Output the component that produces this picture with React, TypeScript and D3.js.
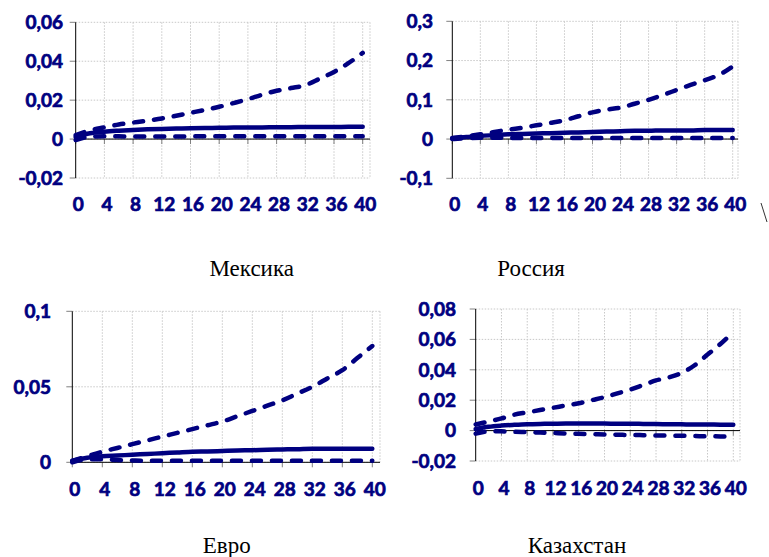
import React from "react";
import * as d3 from "d3";

const periods = [0, 2, 4, 6, 8, 10, 12, 14, 16, 18, 20, 22, 24, 26, 28, 30, 32, 34, 36, 38, 40];
const xTickLabels = [0, 4, 8, 12, 16, 20, 24, 28, 32, 36, 40];

const mexicoUpper = [0.002, 0.0045, 0.006, 0.0075, 0.0085, 0.0095, 0.0106, 0.012, 0.0135, 0.015, 0.0166, 0.0185, 0.0205, 0.0228, 0.0248, 0.0262, 0.0277, 0.031, 0.0345, 0.039, 0.0443];
const mexicoMid = [0.001, 0.003, 0.0038, 0.0043, 0.0047, 0.005, 0.0052, 0.0054, 0.0056, 0.0057, 0.0058, 0.0059, 0.006, 0.006, 0.0061, 0.0061, 0.0062, 0.0062, 0.0062, 0.0063, 0.0063];
const mexicoLower = [-0.0005, 0.0012, 0.0015, 0.0014, 0.0013, 0.0013, 0.0013, 0.0013, 0.0014, 0.0014, 0.0014, 0.0015, 0.0015, 0.0015, 0.0015, 0.0015, 0.0015, 0.0015, 0.0015, 0.0015, 0.0015];

const russiaUpper = [0.003, 0.007, 0.012, 0.018, 0.024, 0.029, 0.035, 0.041, 0.048, 0.058, 0.068, 0.075, 0.08, 0.09, 0.1, 0.112, 0.125, 0.138, 0.15, 0.163, 0.185];
const russiaMid = [0.002, 0.005, 0.008, 0.01, 0.012, 0.013, 0.014, 0.015, 0.016, 0.017, 0.018, 0.019, 0.02, 0.021, 0.021, 0.022, 0.022, 0.022, 0.023, 0.023, 0.023];
const russiaLower = [0, 0.002, 0.003, 0.003, 0.003, 0.0025, 0.0025, 0.0025, 0.0025, 0.0025, 0.0025, 0.0025, 0.0025, 0.0025, 0.0025, 0.0025, 0.0025, 0.0025, 0.0025, 0.0025, 0.0025];

const euroUpper = [0.001, 0.004, 0.007, 0.0095, 0.012, 0.0145, 0.017, 0.0195, 0.022, 0.0245, 0.027, 0.0305, 0.034, 0.0375, 0.041, 0.0455, 0.05, 0.0555, 0.061, 0.069, 0.077];
const euroMid = [0.001, 0.003, 0.004, 0.0045, 0.005, 0.0055, 0.006, 0.0065, 0.007, 0.0072, 0.0075, 0.0078, 0.008, 0.0083, 0.0085, 0.0087, 0.009, 0.009, 0.009, 0.009, 0.009];
const euroLower = [0, 0.002, 0.002, 0.0015, 0.0012, 0.001, 0.001, 0.001, 0.001, 0.001, 0.001, 0.001, 0.001, 0.001, 0.001, 0.001, 0.001, 0.001, 0.001, 0.001, 0.001];

const kazUpper = [0.004, 0.006, 0.008, 0.0105, 0.012, 0.0135, 0.015, 0.0165, 0.018, 0.02, 0.022, 0.0245, 0.027, 0.03, 0.033, 0.035, 0.038, 0.043, 0.05, 0.057, 0.065];
const kazMid = [0.001, 0.0025, 0.0033, 0.0038, 0.0042, 0.0044, 0.0045, 0.0046, 0.0046, 0.0046, 0.0046, 0.0045, 0.0045, 0.0044, 0.0043, 0.0042, 0.0041, 0.004, 0.004, 0.0039, 0.0039];
const kazLower = [-0.002, -0.0005, -0.0005, -0.0008, -0.001, -0.0013, -0.0016, -0.0019, -0.0021, -0.0023, -0.0025, -0.0027, -0.0029, -0.003, -0.0032, -0.0033, -0.0034, -0.0036, -0.0037, -0.0038, -0.0039];

const mexicoYTicks = [-0.02, 0, 0.02, 0.04, 0.06];
const russiaYTicks = [-0.1, 0, 0.1, 0.2, 0.3];
const euroYTicks = [0, 0.05, 0.1];
const kazYTicks = [-0.02, 0, 0.02, 0.04, 0.06, 0.08];

const titles = ["Мексика", "Россия", "Евро", "Казахстан"];

const NAVY = "#000080";
const LABEL_FONT = "Lato, 'Open Sans', sans-serif";

type PanelCfg = {
  axisX: number; x40: number; rightX: number; top: number; bottom: number;
  yTicks: number[]; labelRight: number; xLabelY: number;
  upper: number[]; mid: number[]; lower: number[];
  title: string; titleX: number; titleY: number;
};

const panels: PanelCfg[] = [
  { axisX: 75.7, x40: 362.7, rightX: 370, top: 22.3, bottom: 178, yTicks: mexicoYTicks, labelRight: 63, xLabelY: 204,
    upper: mexicoUpper, mid: mexicoMid, lower: mexicoLower, title: titles[0], titleX: 251.7, titleY: 276 },
  { axisX: 452.3, x40: 732.7, rightX: 738, top: 21.3, bottom: 178.3, yTicks: russiaYTicks, labelRight: 433, xLabelY: 204,
    upper: russiaUpper, mid: russiaMid, lower: russiaLower, title: titles[1], titleX: 531, titleY: 276 },
  { axisX: 72.3, x40: 372.3, rightX: 380, top: 311.3, bottom: 462.3, yTicks: euroYTicks, labelRight: 51, xLabelY: 489,
    upper: euroUpper, mid: euroMid, lower: euroLower, title: titles[2], titleX: 226.7, titleY: 553 },
  { axisX: 475.7, x40: 733.3, rightX: 740, top: 309, bottom: 461, yTicks: kazYTicks, labelRight: 456, xLabelY: 488.5,
    upper: kazUpper, mid: kazMid, lower: kazLower, title: titles[3], titleX: 577, titleY: 553 },
];

const fmt = (v: number) => (v === 0 ? "0" : String(+v.toFixed(3)).replace(".", ","));

function Panel({ p }: { p: PanelCfg }) {
  const yMin = p.yTicks[0];
  const yMax = p.yTicks[p.yTicks.length - 1];
  const x = d3.scaleLinear().domain([0, 40]).range([p.axisX, p.x40]);
  const y = d3.scaleLinear().domain([yMin, yMax]).range([p.bottom, p.top]);
  const line = d3.line<number>().x((_, i) => x(periods[i])).y((d) => y(d)).curve(d3.curveMonotoneX);
  const y0 = y(0);
  const labelProps = {
    fill: NAVY, stroke: NAVY, strokeWidth: 0.7, fontFamily: LABEL_FONT, fontWeight: 700, fontSize: 19,
  };
  return (
    <g>
      {p.yTicks.map((t) => (
        <line key={"hg" + t} x1={p.axisX} x2={p.rightX} y1={y(t)} y2={y(t)} stroke="#c8c8c8" strokeDasharray="1.5 1.5" strokeWidth={1} />
      ))}
      {xTickLabels.filter((t) => t > 0).map((t) => (
        <line key={"vg" + t} x1={x(t)} x2={x(t)} y1={p.top} y2={p.bottom} stroke="#c8c8c8" strokeDasharray="1.5 1.5" strokeWidth={1} />
      ))}
      <line x1={p.rightX} x2={p.rightX} y1={p.top} y2={p.bottom} stroke="#c8c8c8" strokeDasharray="1.5 1.5" strokeWidth={1} />
      {p.yTicks.map((t) => (
        <line key={"yt" + t} x1={p.axisX - 6} x2={p.axisX} y1={y(t)} y2={y(t)} stroke="#808080" strokeWidth={1} />
      ))}
      {xTickLabels.map((t) => (
        <line key={"xt" + t} x1={x(t)} x2={x(t)} y1={y0} y2={y0 + 5} stroke="#808080" strokeWidth={1} />
      ))}
      <line x1={p.axisX} x2={p.axisX} y1={p.top} y2={p.bottom} stroke="#000" strokeWidth={1} />
      <line x1={p.axisX} x2={p.rightX} y1={y0} y2={y0} stroke="#000" strokeWidth={1} />
      <path d={line(p.lower) || ""} fill="none" stroke={NAVY} strokeWidth={4.5} strokeDasharray="9 11" strokeLinecap="round" />
      <path d={line(p.upper) || ""} fill="none" stroke={NAVY} strokeWidth={4.5} strokeDasharray="9 11" strokeLinecap="round" />
      <path d={line(p.mid) || ""} fill="none" stroke={NAVY} strokeWidth={4.5} strokeLinecap="round" />
      {p.yTicks.map((t) => (
        <text key={"yl" + t} x={p.labelRight} y={y(t)} dy="0.36em" textAnchor="end" {...labelProps}>{fmt(t)}</text>
      ))}
      {xTickLabels.map((t) => (
        <text key={"xl" + t} x={x(t) + 2.5} y={p.xLabelY} dy="0.36em" textAnchor="middle" {...labelProps}>{String(t)}</text>
      ))}
      <text x={p.titleX} y={p.titleY} textAnchor="middle" fill="#000"
        fontFamily="'Liberation Serif', 'Times New Roman', serif" fontSize={23}>{p.title}</text>
    </g>
  );
}

export default function App() {
  return (
    <svg width={769} height={557} style={{ position: "fixed", left: 0, top: 0, background: "#fff" }}>
      <rect x={0} y={0} width={769} height={557} fill="#fff" />
      {panels.map((p, i) => (
        <Panel key={i} p={p} />
      ))}
      <line x1={761} y1={203} x2={767} y2={222} stroke="#333" strokeWidth={1} />
    </svg>
  );
}
